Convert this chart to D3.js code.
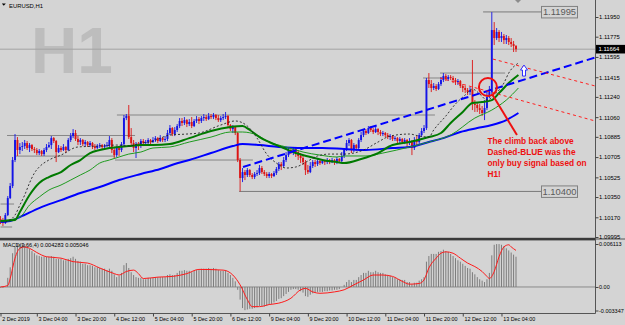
<!DOCTYPE html>
<html>
<head>
<meta charset="utf-8">
<script src="https://cdn.jsdelivr.net/npm/d3@7"></script>
<style>
  html, body { margin: 0; padding: 0; background: #d4d4d4; }
  svg { display: block; }
  text { font-family: "Liberation Sans", Arial, sans-serif; }
</style>
</head>
<body>
<script>
// EURUSD H1, 2 Dec 13:00 -> 13 Dec 10:00 (214 bars)
// prices are stored in points above 1.10000 (1 point = 0.00001)
const basePrice = 1.1;
const firstOpen = 155;
const closes = [
  137,119,190,341,448,679,857,768,795,803,
  830,786,812,777,768,741,759,732,768,795,
  812,874,848,750,786,768,795,768,857,892,
  919,866,839,857,821,839,812,830,803,786,
  803,812,795,803,812,857,768,723,786,768,
  821,1052,1070,883,830,786,821,803,848,830,
  839,857,839,857,874,848,874,857,866,919,
  963,910,946,981,1026,1008,1034,999,1017,981,
  1026,1043,1026,1052,1061,1043,1070,1061,1079,1052,
  1034,1052,1061,1070,990,954,972,919,679,519,
  572,546,590,546,528,555,563,608,572,555,
  537,555,537,563,599,643,626,679,723,768,
  750,777,750,715,697,661,590,572,626,661,
  643,670,652,670,661,679,661,679,661,688,
  670,715,768,830,857,768,812,786,857,901,
  937,919,963,946,928,954,928,910,919,901,
  883,892,866,874,848,866,839,857,830,848,
  786,857,839,901,937,963,1390,1354,1319,1337,
  1310,1354,1390,1426,1399,1417,1408,1390,1372,1381,
  1337,1319,1301,1283,1301,1177,1168,1141,1123,1097,
  1141,1239,1283,1834,1763,1817,1763,1781,1745,1763,
  1728,1710,1692,1664
];
const highs = [
  181,164,208,359,475,706,910,883,830,839,
  857,848,830,821,795,786,777,768,786,821,
  839,892,883,857,812,803,821,803,874,919,
  954,946,892,874,866,857,848,848,839,821,
  821,830,821,821,839,892,874,786,803,803,
  839,1079,1088,1168,963,857,839,839,866,866,
  857,874,866,883,892,883,901,883,892,946,
  990,972,972,999,1052,1052,1061,1043,1043,1061,
  1043,1070,1061,1070,1088,1079,1097,1088,1097,1088,
  1079,1070,1088,1106,1079,999,990,981,928,697,
  608,590,608,599,563,572,590,635,626,590,
  572,572,563,581,617,661,661,706,750,786,
  795,795,795,768,741,715,679,635,661,679,
  679,688,688,688,679,697,688,697,688,706,
  697,750,786,857,874,866,830,821,874,928,
  954,954,981,981,963,972,963,946,937,928,
  919,910,901,892,883,883,874,874,866,874,
  857,883,892,919,963,990,1408,1452,1390,1363,
  1354,1372,1417,1452,1443,1434,1434,1426,1408,1399,
  1390,1354,1337,1319,1328,1568,1212,1194,1177,1159,
  1212,1283,1337,1994,1905,1852,1834,1817,1799,1790,
  1781,1763,1737,1701
];
const lows = [
  110,92,110,181,332,430,661,715,732,759,
  777,768,750,759,741,723,723,715,715,750,
  786,777,830,661,741,750,759,741,759,839,
  874,848,812,812,803,803,795,795,777,768,
  777,786,777,786,795,795,741,697,706,715,
  750,803,1034,866,803,750,697,768,786,803,
  812,821,821,830,839,830,839,839,839,848,
  901,892,892,928,963,981,990,972,981,963,
  972,1008,999,1008,1026,1026,1034,1043,1043,1034,
  1017,1017,1034,1043,963,937,919,901,661,400,
  483,501,528,528,510,510,537,546,555,537,
  519,519,519,528,546,581,590,617,661,706,
  732,723,706,679,652,635,546,555,563,608,
  617,626,635,643,635,643,643,652,635,643,
  652,661,697,759,803,741,750,759,777,839,
  883,901,910,928,910,919,901,892,892,883,
  866,857,848,848,830,830,821,821,795,812,
  723,768,803,821,883,919,946,1319,1283,1301,
  1292,1301,1337,1372,1381,1381,1390,1363,1346,1346,
  1319,1283,1274,1257,1257,1123,1106,1106,1088,1070,
  1034,1123,1230,1266,1701,1745,1728,1728,1710,1710,
  1701,1683,1639,1639
];

// moving averages: [bar, points]
const maFast = [[2,128],[6,190],[8,279],[10,368],[12,475],[14,563],[16,617],[20,679],[25,723],[32,795],
  [41,803],[48,812],[53,803],[58,830],[62,839],[66,874],[70,901],[77,910],[82,919],[91,990],[97,1026],
  [102,981],[106,874],[110,732],[114,652],[118,608],[122,617],[127,670],[131,715],[136,732],[142,732],
  [150,768],[156,839],[161,892],[169,910],[173,892],[177,883],[179,946],[184,1070],[188,1177],[192,1257],
  [195,1310],[198,1266],[201,1212],[204,1257],[208,1363],[210,1452],[214,1541]];
const maMid = [[0,137],[6,146],[8,217],[12,368],[16,475],[20,528],[25,572],[29,635],[33,679],[37,741],
  [41,768],[45,786],[49,795],[53,803],[58,812],[63,812],[70,821],[78,874],[87,937],[95,972],[100,981],
  [103,946],[107,883],[111,839],[117,786],[122,741],[128,706],[133,679],[139,661],[142,652],[149,688],
  [156,741],[162,812],[169,839],[177,883],[182,919],[186,1008],[191,1106],[195,1186],[199,1194],
  [203,1212],[206,1274],[210,1363],[214,1434]];
const maSlow = [[0,137],[8,172],[12,279],[16,350],[20,412],[25,457],[29,501],[33,546],[37,590],[41,652],
  [45,679],[49,706],[53,732],[58,750],[63,786],[70,795],[78,839],[87,883],[95,928],[100,928],[106,901],
  [111,839],[118,795],[125,750],[132,723],[139,706],[142,715],[151,715],[158,741],[169,795],[177,839],
  [186,901],[196,1052],[203,1123],[209,1212],[214,1319]];
const maLong = [[0,128],[4,137],[8,172],[16,252],[25,323],[33,386],[41,439],[49,501],[58,555],[66,599],
  [72,643],[78,679],[87,741],[96,803],[100,821],[107,812],[115,795],[125,786],[133,786],[142,777],
  [151,768],[162,786],[169,795],[177,839],[183,874],[190,928],[197,963],[203,990],[209,1034],[214,1097]];

// MACD(3,66,4) histogram, units of 0.0001
const macdHist = [
  -1,-1,0,13,28,48,57,61,61,61,
  61,57,54,51,48,45,44,43,43,43,
  43,44,43,40,40,40,38,38,40,41,
  43,40,37,36,33,33,31,31,30,28,
  28,27,26,26,24,26,23,18,14,16,
  20,31,34,27,21,17,14,13,13,11,
  11,13,13,13,14,14,14,14,14,17,
  18,17,17,20,23,23,24,23,23,21,
  23,24,24,26,26,26,27,26,27,26,
  24,23,23,24,20,17,13,8,-4,-18,
  -30,-33,-32,-31,-31,-30,-29,-27,-27,-28,
  -27,-25,-24,-22,-20,-17,-16,-13,-10,-7,
  -4,-3,-3,-4,-6,-8,-13,-14,-11,-9,
  -8,-7,-7,-7,-6,-6,-5,-5,-4,-4,
  -3,0,3,7,10,7,10,10,14,17,
  20,20,23,21,21,23,21,20,20,18,
  17,16,14,13,11,11,10,10,7,7,
  4,6,6,9,11,14,36,44,47,47,
  47,50,51,53,51,50,47,44,41,38,
  36,33,30,27,26,21,18,14,11,9,
  7,11,20,45,60,61,61,60,58,55,
  52,49,46,43
];
const macdSignal = [[0,0],[3,2],[4,12],[6,41],[8,55],[10,57],[12,55],[15,49],[19,43],[25,41],[30,36],
  [36,34],[41,27],[47,19],[49,17],[52,22],[55,24],[57,19],[59,12],[65,14],[71,15],[77,19],[82,25],
  [92,24],[96,17],[99,3],[102,-18],[104,-28],[107,-28],[111,-25],[115,-23],[120,-16],[124,-4],[126,-2],
  [129,-7],[132,-9],[138,-7],[142,-4],[146,3],[150,10],[154,17],[158,17],[162,15],[166,8],[169,4],
  [173,5],[175,10],[177,27],[180,41],[182,48],[184,50],[187,48],[190,41],[193,34],[196,29],[199,22],
  [201,15],[202,12],[204,22],[206,43],[208,57],[210,60],[211,57],[213,52]];

// axis ticks
const priceTicks = [1.11950,1.11775,1.11595,1.11415,1.11240,1.11060,1.10885,1.10705,1.10525,1.10350,1.10170,1.09995];
const macdTicks = [0.006113, 0, -0.003347];
const macdTickText = ["0.006113", "0.00", "-0.003347"];
const timeTickBars = [0,15,31,47,63,79,95,111,127,143,159,175,191,207];
const timeLabels = ["2 Dec 2019","3 Dec 04:00","3 Dec 20:00","4 Dec 12:00","5 Dec 04:00","5 Dec 20:00",
  "6 Dec 12:00","9 Dec 04:00","9 Dec 20:00","10 Dec 12:00","11 Dec 04:00","11 Dec 20:00","12 Dec 12:00","13 Dec 04:00"];
const bidPrice = 1.11664;

// drawn objects: horizontal lines [price, fromBar, toBar]
const hLines = [[1.10897,2.7,55.6],[1.10714,6.4,47.3],[1.10679,47.3,104.3],[1.11079,48.1,179.5],
  [1.11408,174.6,183.7],[1.11452,181.6,208.5],[1.10288,0,5.6],[1.10084,0,4.8]];
const priceMarks = [[1.11995,199.4,223.4],[1.10400,98.6,223.4]];
const blueTrend = [[100.2,1.10617],[245.7,1.11590]];
const redTrends = [[[203.5,1.11576],[245.7,1.11337]],[[181.6,1.11408],[245.7,1.11026]]];
const signalCircle = [201.4, 1.11328];
const pointer = [[203.1,1.11265],[213.4,1.10901]];
const upArrowAt = [216.3, 1.11523];
const noteAt = [201.2, 1.10817];
const noteLines = ["The climb back above","Dashed-BLUE was the","only buy signal based on","H1!"];

const W = 625, H = 325, plotR = 595;
const price = p => basePrice + p / 1e5;
const x = d3.scaleLinear().domain([0, 213]).range([0.5, 516]);
const y = d3.scaleLinear().domain([1.09995, 1.11950]).range([237, 17]);
const yM = d3.scaleLinear().domain([-0.003347, 0.006113]).range([310.5, 244]);

const upCol = "#1414e6", dnCol = "#dc1414";

const svg = d3.select("body").append("svg").attr("width", W).attr("height", H);
svg.append("rect").attr("width", W).attr("height", H).attr("fill", "#d4d4d4");

const defs = svg.append("defs");
defs.append("clipPath").attr("id", "clipMain").append("rect")
  .attr("x", 0).attr("y", 0).attr("width", plotR).attr("height", 237.5);
defs.append("clipPath").attr("id", "clipMacd").append("rect")
  .attr("x", 0).attr("y", 241).attr("width", plotR).attr("height", 72);

const main = svg.append("g").attr("clip-path", "url(#clipMain)");

// watermark + title
main.append("text").attr("x", 31).attr("y", 73).attr("font-size", 64).attr("font-weight", "bold")
  .attr("fill", "#bdbdbd").text("H1");
main.append("path").attr("d", "M1.8,3.4 L5.8,3.4 L3.8,5.8 Z").attr("fill", "#000");
main.append("text").attr("x", 9).attr("y", 7.6).attr("font-size", 5.9).attr("fill", "#000").text("EURUSD,H1");

// bid line
main.append("line").attr("x1", 0).attr("x2", plotR).attr("y1", y(bidPrice)).attr("y2", y(bidPrice))
  .attr("stroke", "#a2a2a2").attr("stroke-width", 1);

// horizontal line objects
main.selectAll("line.hl").data(hLines).join("line").attr("class", "hl")
  .attr("x1", d => x(d[1])).attr("x2", d => x(d[2]))
  .attr("y1", d => y(d[0])).attr("y2", d => y(d[0]))
  .attr("stroke", "#868686").attr("stroke-width", 1);
main.selectAll("line.pm").data(priceMarks).join("line").attr("class", "pm")
  .attr("x1", d => x(d[1])).attr("x2", d => x(d[2]))
  .attr("y1", d => y(d[0])).attr("y2", d => y(d[0]))
  .attr("stroke", "#7a7a7a").attr("stroke-width", 1);

// candles
const bars = closes.map((c, i) => ({ i, o: i ? closes[i - 1] : firstOpen, h: highs[i], l: lows[i], c }));
const cg = main.append("g");
cg.selectAll("line").data(bars).join("line")
  .attr("x1", d => x(d.i)).attr("x2", d => x(d.i))
  .attr("y1", d => y(price(Math.max(d.h, d.o, d.c)))).attr("y2", d => y(price(Math.min(d.l, d.o, d.c))))
  .attr("stroke", d => d.c >= d.o ? upCol : dnCol).attr("stroke-width", 0.9);
cg.selectAll("rect").data(bars).join("rect")
  .attr("x", d => x(d.i) - 0.95).attr("width", 1.9)
  .attr("y", d => y(price(Math.max(d.o, d.c))))
  .attr("height", d => Math.max(0.8, Math.abs(y(price(d.o)) - y(price(d.c)))))
  .attr("fill", d => d.c >= d.o ? upCol : dnCol);

// moving averages
const maLine = d3.line().x(d => x(d[0])).y(d => y(price(d[1]))).curve(d3.curveMonotoneX);
main.append("path").attr("d", maLine(maLong)).attr("fill", "none").attr("stroke", "#0000ff").attr("stroke-width", 2);
main.append("path").attr("d", maLine(maSlow)).attr("fill", "none").attr("stroke", "#1f9a1f").attr("stroke-width", 1);
main.append("path").attr("d", maLine(maMid)).attr("fill", "none").attr("stroke", "#007a00").attr("stroke-width", 2);
main.append("path").attr("d", maLine(maFast)).attr("fill", "none").attr("stroke", "#222")
  .attr("stroke-width", 0.9).attr("stroke-dasharray", "2,2");

// trend lines
const seg = d3.line().x(d => x(d[0])).y(d => y(d[1]));
main.append("path").attr("d", seg(blueTrend)).attr("fill", "none").attr("stroke", "#0000ff")
  .attr("stroke-width", 2).attr("stroke-dasharray", "8,4");
main.selectAll("path.rt").data(redTrends).join("path").attr("class", "rt")
  .attr("d", d => seg(d)).attr("fill", "none").attr("stroke", "#ff2020")
  .attr("stroke-width", 1).attr("stroke-dasharray", "3,3");

// annotation
main.append("circle").attr("cx", x(signalCircle[0])).attr("cy", y(signalCircle[1])).attr("r", 9)
  .attr("fill", "none").attr("stroke", "#ee1010").attr("stroke-width", 2);
main.append("path").attr("d", seg(pointer)).attr("stroke", "#ee1010").attr("stroke-width", 2).attr("fill", "none");
const ax = x(upArrowAt[0]), ay = y(upArrowAt[1]);
main.append("path")
  .attr("d", `M${ax},${ay} L${ax + 3.5},${ay + 5} L${ax + 1.5},${ay + 5} L${ax + 1.5},${ay + 11} L${ax - 1.5},${ay + 11} L${ax - 1.5},${ay + 5} L${ax - 3.5},${ay + 5} Z`)
  .attr("fill", "#fff").attr("stroke", "#1a1aff").attr("stroke-width", 0.9);
main.append("g").selectAll("text").data(noteLines).join("text")
  .attr("x", x(noteAt[0])).attr("y", (d, i) => y(noteAt[1]) + i * 10.7)
  .attr("font-size", 8.3).attr("font-weight", "bold").attr("fill", "#ee1010").text(d => d);

// chart shift marker
main.append("path").attr("d", "M515,0 L521,0 L518,3 Z").attr("fill", "#8c8c8c");

// price mark label boxes
const pmg = svg.append("g");
priceMarks.forEach(d => {
  const yy = y(d[0]);
  pmg.append("rect").attr("x", 541.5).attr("y", yy - 5.5).attr("width", 36).attr("height", 11.5)
    .attr("fill", "#d4d4d4").attr("stroke", "#808080").attr("stroke-width", 1);
  pmg.append("text").attr("x", 559.5).attr("y", yy + 3.4).attr("text-anchor", "middle")
    .attr("font-size", 9.4).attr("fill", "#5a5a5a").text(d[0].toFixed(5));
});

// MACD window
const mg = svg.append("g").attr("clip-path", "url(#clipMacd)");
mg.append("line").attr("x1", 0).attr("x2", plotR).attr("y1", yM(0)).attr("y2", yM(0))
  .attr("stroke", "#8a8a8a").attr("stroke-width", 1);
mg.selectAll("line.h").data(macdHist).join("line").attr("class", "h")
  .attr("x1", (d, i) => x(i)).attr("x2", (d, i) => x(i))
  .attr("y1", yM(0)).attr("y2", d => yM(d / 1e4))
  .attr("stroke", "#7c7c7c").attr("stroke-width", 1);
mg.append("path").attr("d", d3.line().x(d => x(d[0])).y(d => yM(d[1] / 1e4)).curve(d3.curveMonotoneX)(macdSignal))
  .attr("fill", "none").attr("stroke", "#ff1a1a").attr("stroke-width", 1);
svg.append("text").attr("x", 3).attr("y", 247.3).attr("font-size", 5.6).attr("fill", "#000")
  .text("MACD(3,66,4) 0.004283 0.005046");

// frames
svg.append("rect").attr("x", 0).attr("y", 237.8).attr("width", plotR).attr("height", 2.6).attr("fill", "#3a3a3a");
svg.append("line").attr("x1", plotR).attr("x2", W).attr("y1", 239).attr("y2", 239).attr("stroke", "#555");
svg.append("line").attr("x1", plotR + 0.5).attr("x2", plotR + 0.5).attr("y1", 0).attr("y2", 313.5)
  .attr("stroke", "#555").attr("stroke-width", 1);
svg.append("line").attr("x1", 0).attr("x2", plotR + 0.5).attr("y1", 313.5).attr("y2", 313.5)
  .attr("stroke", "#555").attr("stroke-width", 1);

// axes
const styleAxis = g => {
  g.select(".domain").remove();
  g.selectAll(".tick line").attr("stroke", "#444");
  g.selectAll("text").attr("fill", "#000").attr("font-family", "Liberation Sans, Arial, sans-serif");
};
svg.append("g").attr("transform", `translate(${plotR + 0.5},0)`)
  .call(d3.axisRight(y).tickValues(priceTicks).tickSize(3).tickPadding(0.5).tickFormat(d3.format(".5f")))
  .call(styleAxis).call(g => g.selectAll("text").attr("font-size", 5.9));
svg.append("g").attr("transform", `translate(${plotR + 0.5},0)`)
  .call(d3.axisRight(yM).tickValues(macdTicks).tickSize(3).tickPadding(0.5).tickFormat((d, i) => macdTickText[i]))
  .call(styleAxis).call(g => g.selectAll("text").attr("font-size", 5.5));
svg.append("g").attr("transform", "translate(0,313.5)")
  .call(d3.axisBottom(x).tickValues(timeTickBars).tickSize(3).tickFormat((d, i) => timeLabels[i]))
  .call(styleAxis)
  .call(g => g.selectAll("text").attr("text-anchor", "start").attr("x", 1.2).attr("y", 3.2)
    .attr("dy", "0.71em").attr("font-size", 5.4));

// bid price label
const by = y(bidPrice);
svg.append("rect").attr("x", plotR + 1).attr("y", by - 4.3).attr("width", W - plotR - 1).attr("height", 8.6).attr("fill", "#000");
svg.append("text").attr("x", plotR + 3.5).attr("y", by + 2.2).attr("font-size", 5.9).attr("fill", "#fff")
  .text(bidPrice.toFixed(5));
</script>
</body>
</html>
